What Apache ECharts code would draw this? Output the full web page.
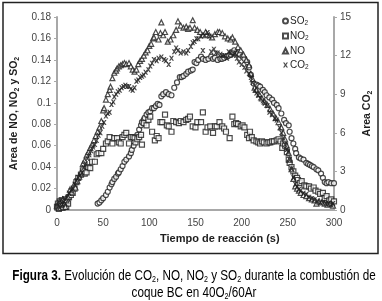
<!DOCTYPE html>
<html><head><meta charset="utf-8">
<script src="https://cdn.jsdelivr.net/npm/echarts@6/dist/echarts.min.js"></script>
<style>html,body{margin:0;padding:0;background:#fff}#c{width:382px;height:301px}</style>
</head><body><div id="c"></div>
<script>
// x ticks and y ticks
const xTicks = [0, 50, 100, 150, 200, 250, 300];
const leftTicks = [0, 0.02, 0.04, 0.06, 0.08, 0.1, 0.12, 0.14, 0.16, 0.18];
const rightTicks = [0, 3, 6, 9, 12, 15];
const seriesNames = ['SO2', 'NO2', 'NO', 'CO2'];

// SO2 (left axis)
const so2T = [44,46,48,50,53,55,57,59,60,62,64,66,67,69,71,73,75,78,80,81,83,85,87,89,91,92,94,95,97,99,101,103,105,107,109,111,113,115,118,121,124,127,130,133,135,137,140,142,145,147,149,151,153,156,158,161,164,167,169,171,174,177,179,181,184,186,188,190,192,194,196,198,201,203,206,208,210,213,216,218,220,223,225,227,230,233,235,238,240,243,246,248,251,252,254,256,258,259,262,264,267,270,272,274,276,278,281,283,286,288,290,292,294,297,300];
const so2V = [0.006,0.007,0.009,0.011,0.014,0.017,0.021,0.024,0.026,0.029,0.031,0.034,0.035,0.038,0.041,0.045,0.047,0.050,0.053,0.056,0.060,0.066,0.070,0.075,0.079,0.082,0.084,0.086,0.089,0.091,0.092,0.095,0.095,0.097,0.099,0.098,0.106,0.108,0.110,0.108,0.107,0.114,0.119,0.124,0.124,0.125,0.127,0.129,0.130,0.131,0.138,0.137,0.140,0.143,0.141,0.140,0.141,0.143,0.141,0.142,0.140,0.141,0.141,0.142,0.143,0.144,0.145,0.147,0.149,0.146,0.146,0.145,0.143,0.141,0.138,0.133,0.126,0.118,0.117,0.116,0.115,0.112,0.110,0.107,0.105,0.103,0.100,0.098,0.095,0.090,0.084,0.081,0.079,0.073,0.067,0.062,0.057,0.053,0.049,0.048,0.047,0.044,0.043,0.042,0.041,0.040,0.038,0.037,0.034,0.030,0.026,0.025,0.026,0.025,0.025];

// NO2 (left axis)
const no2T = [0,1,2,3,4,5,6,7,8,9,10,11,12,13,15,17,19,21,23,26,28,30,32,34,36,38,41,43,45,48,50,53,55,57,60,62,65,67,69,71,73,75,78,80,82,84,85,87,89,91,92,94,97,99,101,103,106,108,110,112,114,117,119,121,124,126,129,132,134,137,140,142,144,147,150,152,156,158,161,163,166,169,171,173,176,179,181,183,187,190,192,194,196,199,201,203,206,208,209,211,213,216,218,220,222,224,227,229,231,233,235,238,240,242,244,245,247,249,251,252,254,256,258,260,261,263,265,268,270,273,275,278,280,283,285,288,290,292,295,297,300];
const no2V = [0.003,0.006,0.001,0.008,0.004,0.009,0.002,0.007,0.005,0.010,0.003,0.008,0.006,0.012,0.014,0.016,0.020,0.026,0.030,0.033,0.037,0.034,0.035,0.040,0.039,0.045,0.045,0.052,0.053,0.053,0.057,0.062,0.064,0.068,0.062,0.067,0.067,0.063,0.062,0.068,0.070,0.072,0.062,0.068,0.068,0.067,0.063,0.066,0.068,0.070,0.061,0.081,0.079,0.084,0.087,0.073,0.065,0.069,0.067,0.082,0.082,0.089,0.079,0.078,0.073,0.083,0.082,0.081,0.083,0.082,0.084,0.085,0.087,0.078,0.077,0.082,0.082,0.091,0.073,0.077,0.078,0.072,0.078,0.078,0.082,0.078,0.076,0.073,0.067,0.087,0.080,0.081,0.080,0.078,0.079,0.077,0.070,0.067,0.073,0.068,0.065,0.064,0.063,0.062,0.064,0.063,0.062,0.063,0.063,0.064,0.064,0.065,0.066,0.064,0.058,0.062,0.060,0.054,0.047,0.044,0.040,0.036,0.032,0.030,0.028,0.025,0.027,0.023,0.022,0.022,0.020,0.021,0.018,0.017,0.015,0.016,0.011,0.013,0.009,0.010,0.008];

// NO (left axis)
const noT = [0,2,3,5,6,8,9,10,12,14,16,18,20,22,24,26,28,30,32,34,36,38,40,42,44,46,48,50,51,53,55,57,58,60,62,64,65,67,69,71,73,75,78,80,82,84,86,88,90,92,94,96,98,100,102,104,105,107,110,112,113,115,117,120,123,126,129,131,134,137,140,142,144,147,149,152,155,158,161,165,168,171,174,176,179,182,185,188,190,193,196,199,202,205,208,210,212,214,216,219,222,225,228,231,234,237,240,243,245,247,249,251,252,254,256,258,260,262,264,267,270,273,276,279,281,284,287,290,293,296,299];
const noV = [0.004,0.002,0.008,0.005,0.010,0.006,0.003,0.009,0.012,0.019,0.017,0.023,0.021,0.027,0.031,0.035,0.043,0.046,0.051,0.054,0.058,0.061,0.065,0.069,0.073,0.077,0.083,0.093,0.095,0.103,0.108,0.112,0.115,0.123,0.128,0.130,0.132,0.134,0.135,0.136,0.137,0.136,0.137,0.134,0.131,0.129,0.131,0.136,0.139,0.141,0.144,0.147,0.149,0.153,0.155,0.160,0.161,0.166,0.159,0.165,0.175,0.163,0.166,0.157,0.159,0.163,0.168,0.176,0.172,0.170,0.171,0.169,0.170,0.177,0.170,0.168,0.166,0.163,0.166,0.163,0.161,0.164,0.166,0.166,0.165,0.162,0.160,0.159,0.161,0.157,0.152,0.149,0.145,0.140,0.135,0.127,0.122,0.114,0.112,0.108,0.104,0.101,0.098,0.094,0.090,0.086,0.082,0.077,0.072,0.066,0.060,0.053,0.047,0.038,0.029,0.022,0.020,0.018,0.016,0.014,0.013,0.011,0.010,0.009,0.006,0.008,0.007,0.006,0.005,0.006,0.004];

// CO2 (right axis)
const co2T = [0,2,3,5,6,8,9,11,13,15,17,19,21,23,25,27,29,31,33,35,37,39,41,43,45,47,49,51,53,55,57,59,61,62,64,66,68,70,72,74,76,78,80,82,84,86,88,90,92,94,96,99,101,103,105,108,110,113,116,118,121,124,127,129,131,134,137,140,142,145,147,149,151,153,156,158,160,163,165,167,170,172,174,177,179,181,184,186,188,191,193,195,197,200,203,205,208,210,212,214,216,218,220,223,225,228,230,233,236,238,241,243,245,247,249,250,252,254,256,258,260,262,264,267,270,273,276,279,282,285,288,291,294,297,299];
const co2V = [0.3,0.6,0.2,0.8,0.4,0.9,0.5,1.0,1.3,1.5,1.7,2.0,2.3,2.5,2.7,2.9,3.3,3.6,4.0,4.3,4.6,4.9,5.1,5.4,5.8,6.0,6.5,6.8,7.3,7.5,7.6,8.2,8.4,8.8,9.0,9.2,9.3,9.5,9.6,9.7,9.6,9.6,9.4,9.3,9.5,10.0,10.1,10.3,10.4,10.5,10.7,10.9,11.2,11.4,11.7,11.6,11.8,11.9,11.7,11.6,11.3,11.8,12.3,12.6,12.4,12.2,12.3,12.2,12.4,12.7,13.0,13.1,13.3,13.3,13.5,12.4,13.6,13.8,13.5,12.3,12.5,12.2,12.2,12.1,12.0,12.0,11.8,12.3,12.2,12.0,12.2,11.8,11.5,11.3,11.1,10.8,10.6,10.3,9.9,9.3,9.1,8.9,8.7,8.5,8.3,8.1,7.6,7.4,7.1,7.0,6.4,6.0,5.6,5.1,4.7,4.5,3.9,3.2,2.5,2.0,1.8,1.6,1.5,1.3,1.2,1.0,0.9,0.8,0.7,0.6,0.6,0.5,0.5,0.4,0.5];

const pair = (t, v) => t.map((x, i) => [x, v[i]]);
const FONT = '"Liberation Sans", Arial, sans-serif';
const INK = '#1e1e1e';
const xMark = 'path://M0,0L3,0L5,3L7,0L10,0L6.5,5L10,10L7,10L5,7L3,10L0,10L3.5,5Z';

const chart = echarts.init(document.getElementById('c'), null, {renderer: 'canvas'});
const subRich = {
  b: {fontFamily: FONT, fontWeight: 'bold', fontSize: 10.5, color: INK},
  s: {fontFamily: FONT, fontWeight: 'bold', fontSize: 7, color: INK, padding: [6, 0, 0, 0]}
};
const legRich = {
  a: {fontFamily: FONT, fontSize: 10, color: INK},
  s: {fontFamily: FONT, fontSize: 6.5, color: INK, padding: [5, 0, 0, 0]}
};
const legLabel = n => n.endsWith('2') ? '{a|' + n.slice(0, -1) + '}{s|2}' : '{a|' + n + '}';
const capRich = {
  f: {fontFamily: FONT, fontWeight: 'bold', fontSize: 14, color: '#111'},
  n: {fontFamily: FONT, fontSize: 14, color: '#111'},
  s: {fontFamily: FONT, fontSize: 8.5, color: '#111', padding: [7, 0, 0, 0]}
};

chart.setOption({
  animation: false,
  backgroundColor: '#fff',
  grid: {left: 57, right: 42, top: 17, bottom: 91},
  legend: {
    orient: 'vertical', left: 277, top: 11, itemWidth: 5, itemHeight: 5, itemGap: 4,
    data: seriesNames,
    formatter: legLabel,
    textStyle: {rich: legRich, padding: [0, 0, 0, -3]}
  },
  xAxis: {
    type: 'value', min: xTicks[0], max: xTicks[xTicks.length - 1], interval: 50,
    axisLine: {lineStyle: {color: '#a8a8a8', width: 2}},
    axisTick: {show: false},
    splitLine: {show: false},
    axisLabel: {fontFamily: FONT, fontSize: 10, color: '#444', margin: 8}
  },
  yAxis: [{
    type: 'value', min: 0, max: 0.18, interval: 0.02, position: 'left',
    axisLine: {show: true, lineStyle: {color: '#a8a8a8', width: 2}},
    axisTick: {show: true, length: 3, lineStyle: {color: '#a8a8a8'}},
    splitLine: {show: false},
    axisLabel: {fontFamily: FONT, fontSize: 10, color: '#444', margin: 6,
      formatter: v => String(+v.toFixed(2))},
    name: '{b|Area de NO, NO}{s|2}{b| y SO}{s|2}',
    nameLocation: 'middle', nameGap: 32, nameRotate: 90,
    nameTextStyle: {rich: subRich}
  }, {
    type: 'value', min: 0, max: 15, interval: 3, position: 'right',
    axisLine: {show: true, lineStyle: {color: '#a8a8a8', width: 2}},
    axisTick: {show: true, length: 3, lineStyle: {color: '#a8a8a8'}},
    splitLine: {show: false},
    axisLabel: {fontFamily: FONT, fontSize: 10, color: '#444', margin: 6},
    name: '{b|Area CO}{s|2}',
    nameLocation: 'middle', nameGap: 22, nameRotate: 90,
    nameTextStyle: {rich: subRich}
  }],
  series: [
    {name: 'SO2', type: 'scatter', yAxisIndex: 0, data: pair(so2T, so2V), symbol: 'circle', symbolSize: 5,
      itemStyle: {color: '#fff', borderColor: INK, borderWidth: 1.2}},
    {name: 'NO2', type: 'scatter', yAxisIndex: 0, data: pair(no2T, no2V), symbol: 'rect', symbolSize: 5,
      itemStyle: {color: '#fff', borderColor: INK, borderWidth: 1.2}},
    {name: 'NO', type: 'scatter', yAxisIndex: 0, data: pair(noT, noV), symbol: 'triangle', symbolSize: 5,
      itemStyle: {color: '#fff', borderColor: INK, borderWidth: 1.2}},
    {name: 'CO2', type: 'scatter', yAxisIndex: 1, data: pair(co2T, co2V), symbol: xMark, symbolSize: 5,
      itemStyle: {color: INK}}
  ],
  graphic: [
    {type: 'rect', shape: {x: 3, y: 2.5, width: 375, height: 251}, silent: true, z: -1,
      style: {fill: null, stroke: '#222', lineWidth: 1.5}},
    {type: 'text', left: 160, top: 233, silent: true,
      style: {text: 'Tiempo de reacción (s)', font: 'bold 11px ' + FONT, fill: INK}},
    {type: 'text', x: 194, y: 276, scaleX: 0.835, silent: true,
      style: {
        text: '{f|Figura 3.}{n| Evolución de CO}{s|2}{n|, NO, NO}{s|2}{n| y SO}{s|2}{n| durante la combustión de}',
        align: 'center', verticalAlign: 'middle', rich: capRich
      }},
    {type: 'text', x: 194, y: 293, scaleX: 0.835, silent: true,
      style: {
        text: '{n|coque BC en 40O}{s|2}{n|/60Ar}',
        align: 'center', verticalAlign: 'middle', rich: capRich
      }}
  ]
});
</script></body></html>
